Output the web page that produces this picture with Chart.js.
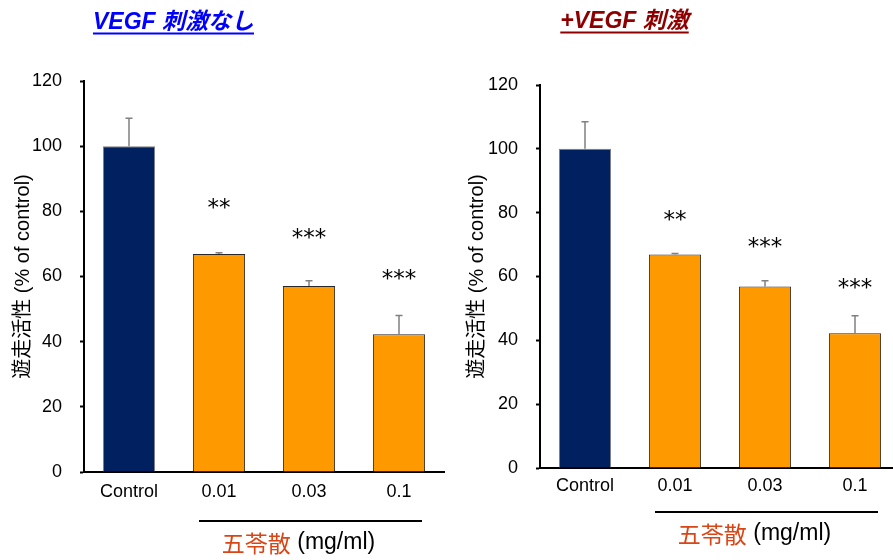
<!DOCTYPE html>
<html>
<head>
<meta charset="utf-8">
<script src="https://cdn.jsdelivr.net/npm/chart.js@4.4.0/dist/chart.umd.min.js"></script>
<style>
  html, body { margin: 0; padding: 0; background: #ffffff; }
  #wrap { position: relative; width: 893px; height: 560px; overflow: hidden; background: #fff; }
  .panel { position: absolute; top: 0; width: 446px; height: 560px; }
</style>
</head>
<body>
<div id="wrap">
  <div class="panel" style="left:0px"><canvas id="noVegf" width="446" height="560"></canvas></div>
  <div class="panel" style="left:454px"><canvas id="withVegf" width="446" height="560"></canvas></div>
</div>
<script>
// Migration activity (% of control), mean and SEM per dose
const doses = ['Control', '0.01', '0.03', '0.1'];
const noVegfMean = [100, 66.9, 57.1, 42.3];
const noVegfSem = [8.6, 0.4, 1.6, 5.7];
const vegfMean = [100, 66.9, 56.9, 42.2];
const vegfSem = [8.5, 0.3, 1.8, 5.5];
const significance = ['', '**', '***', '***'];
const yTickValues = [0, 20, 40, 60, 80, 100, 120];

const LATIN = '"Liberation Sans", Arial, "Noto Sans CJK JP", sans-serif';
const CJK = '"Noto Sans CJK JP", "Liberation Sans", sans-serif';
const barColors = ['#002060', '#FF9900', '#FF9900', '#FF9900'];
const barBorders = ['#7F7F7F', '#262626', '#262626', '#262626'];

// Error bars, significance marks, panel heading and dose bracket
const decor = {
  id: 'decor',
  afterDatasetsDraw(chart, args, o) {
    const ctx = chart.ctx, y = chart.scales.y;
    const meta = chart.getDatasetMeta(0);
    const means = chart.data.datasets[0].data;
    ctx.save();
    ctx.strokeStyle = '#808080';
    ctx.lineWidth = 1.5;
    meta.data.forEach((bar, i) => {
      const top = y.getPixelForValue(means[i]);
      const tip = y.getPixelForValue(means[i] + o.errors[i]);
      ctx.beginPath();
      ctx.moveTo(bar.x, top); ctx.lineTo(bar.x, tip);
      ctx.moveTo(bar.x - 3.5, tip); ctx.lineTo(bar.x + 3.5, tip);
      ctx.stroke();
    });
    // significance marks, spaced asterisks
    ctx.fillStyle = '#000';
    ctx.font = '23px "DejaVu Sans", sans-serif';
    ctx.textAlign = 'center';
    ctx.textBaseline = 'alphabetic';
    const pitch = 11.5;
    meta.data.forEach((bar, i) => {
      const mark = significance[i];
      if (!mark) return;
      const cy = y.getPixelForValue(o.starLevels[i]);
      const n = mark.length;
      for (let k = 0; k < n; k++) {
        const sx = bar.x + (k - (n - 1) / 2) * pitch;
        ctx.fillText(mark[k], sx, cy + 12);
      }
    });
    ctx.restore();
  },
  afterDraw(chart, args, o) {
    const ctx = chart.ctx, x = chart.scales.x;
    const area = chart.chartArea;
    ctx.save();
    // heading
    ctx.font = 'italic bold 23px ' + LATIN;
    ctx.fillStyle = o.titleColor;
    ctx.textAlign = 'center';
    ctx.textBaseline = 'middle';
    ctx.fillText(o.title, o.titleX, o.titleY);
    const tw = ctx.measureText(o.title).width;
    ctx.strokeStyle = o.titleColor;
    ctx.lineWidth = 2;
    ctx.beginPath();
    ctx.moveTo(o.titleX - tw / 2, o.titleY + 10.5);
    ctx.lineTo(o.titleX + tw / 2, o.titleY + 10.5);
    ctx.stroke();
    // dose bracket
    const x0 = x.getPixelForValue(1) - 20;
    const x1 = x.getPixelForValue(3) + 23;
    const ly = area.bottom + o.bracketDrop;
    ctx.strokeStyle = '#000';
    ctx.lineWidth = 2;
    ctx.beginPath();
    ctx.moveTo(x0, ly); ctx.lineTo(x1, ly);
    ctx.stroke();
    // group label
    const part1 = '五苓散', part2 = ' (mg/ml)';
    ctx.font = '23px ' + CJK;
    const w1 = ctx.measureText(part1).width;
    ctx.font = '23px ' + LATIN;
    const w2 = ctx.measureText(part2).width;
    const cx = (x0 + x1) / 2 - 12;
    const sx = cx - (w1 + w2) / 2;
    const ty = ly + 22;
    ctx.textAlign = 'left';
    ctx.textBaseline = 'middle';
    ctx.font = '23px ' + CJK;
    ctx.fillStyle = '#DA4515';
    ctx.fillText(part1, sx, ty);
    ctx.font = '23px ' + LATIN;
    ctx.fillStyle = '#000';
    ctx.fillText(part2, sx + w1, ty);
    ctx.restore();
  }
};

function makePanel(id, means, sems, cfg) {
  return new Chart(document.getElementById(id), {
    type: 'bar',
    data: {
      labels: doses,
      datasets: [{
        data: means,
        backgroundColor: barColors,
        borderColor: barBorders,
        borderWidth: 1,
        barPercentage: 0.58,
        categoryPercentage: 1.0
      }]
    },
    options: {
      responsive: false,
      animation: false,
      layout: { padding: { top: cfg.top, left: 0, right: cfg.right, bottom: 0 } },
      plugins: {
        legend: { display: false },
        tooltip: { enabled: false },
        decor: {
          errors: sems,
          starLevels: cfg.starLevels,
          title: cfg.title,
          titleColor: cfg.titleColor,
          titleX: cfg.titleX,
          titleY: cfg.titleY,
          bracketDrop: cfg.bracketDrop
        }
      },
      scales: {
        x: {
          grid: { display: false, drawTicks: false },
          border: { display: true, color: '#000', width: 2 },
          ticks: { color: '#000', font: { family: LATIN, size: 18 }, padding: cfg.xPad, maxRotation: 0 },
          afterFit(s) { s.height = 560 - cfg.bottom; }
        },
        y: {
          min: 0,
          max: 120,
          afterBuildTicks(s) { s.ticks = yTickValues.map(v => ({ value: v })); },
          grid: { drawOnChartArea: false, drawTicks: true, tickLength: 4, tickWidth: 2, tickColor: '#000' },
          border: { display: true, color: '#000', width: 2 },
          ticks: { color: '#000', font: { family: LATIN, size: 18 }, padding: 18 },
          title: {
            display: true,
            text: '遊走活性 (% of control)',
            color: '#000',
            font: { family: LATIN, size: 20 },
            padding: { top: 11, bottom: 0 }
          },
          afterFit(s) { s.width = cfg.yWidth; }
        }
      }
    },
    plugins: [decor]
  });
}

makePanel('noVegf', noVegfMean, noVegfSem, {
  top: 81, bottom: 472, right: 2, yWidth: 84, xPad: 9,
  starLevels: [0, 82.6, 73.4, 60.8],
  title: 'VEGF 刺激なし', titleColor: '#0000FF', titleX: 173.5, titleY: 23,
  bracketDrop: 49
});

makePanel('withVegf', vegfMean, vegfSem, {
  top: 85, bottom: 468, right: 0, yWidth: 86, xPad: 7,
  starLevels: [0, 79.3, 70.8, 58.0],
  title: '+VEGF 刺激', titleColor: '#8E0000', titleX: 170.5, titleY: 22,
  bracketDrop: 44
});
</script>
</body>
</html>
